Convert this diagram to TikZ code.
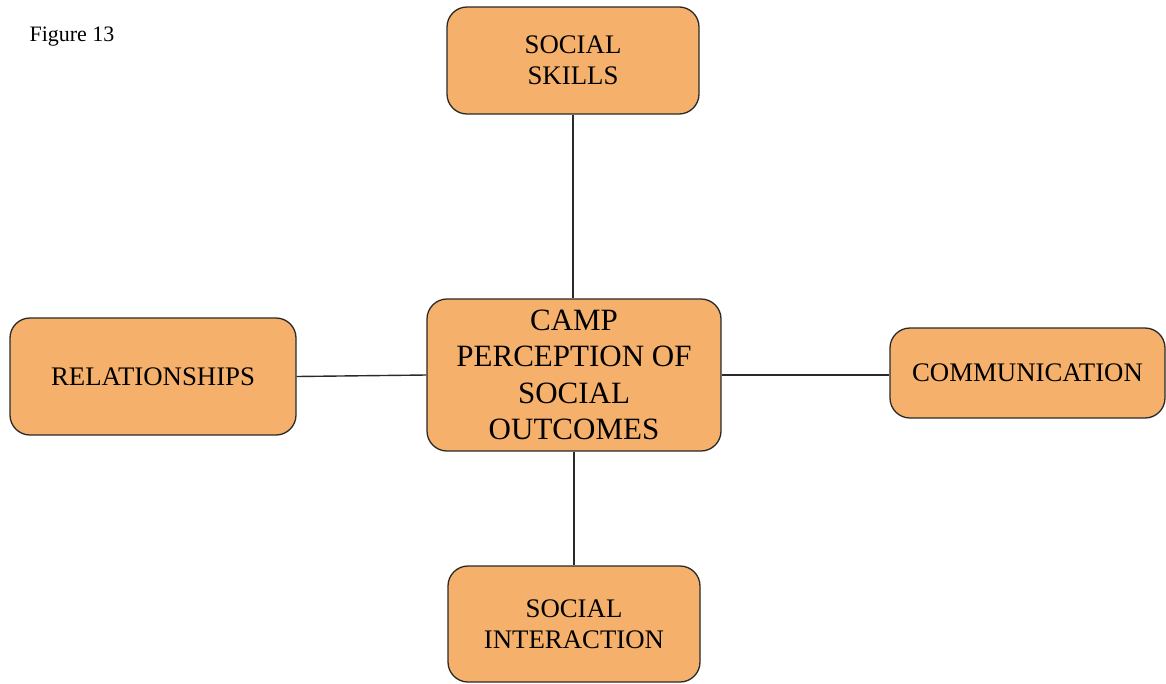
\documentclass[tikz,border=0pt]{standalone}
\usepackage{fontspec}
\setmainfont{Liberation Serif}
\definecolor{boxfill}{HTML}{F5B06B}
\definecolor{boxline}{HTML}{2A2A2A}
\begin{document}
\begin{tikzpicture}[x=1pt,y=-1pt,
  box/.style={draw=boxline, line width=1.3pt, fill=boxfill, rounded corners=20pt,
    inner sep=0pt, align=center, text=black},
  outer/.style={box, font=\fontsize{26.8}{31}\selectfont},
  link/.style={draw=boxline, line width=1.4pt}]
\useasboundingbox (0,0) rectangle (1166,683);
\node[anchor=west, font=\fontsize{22}{26}\selectfont] (fig) at (26,37) {Figure 13};
\node[box, font=\fontsize{31}{36.5}\selectfont, minimum width=294pt, minimum height=152pt]
  (core) at (574,375) {CAMP\\PERCEPTION OF\\SOCIAL\\OUTCOMES};
\node[outer, minimum width=252pt, minimum height=107pt] (skills) at (573,60.5) {SOCIAL\\SKILLS};
\node[outer, minimum width=286pt, minimum height=117pt] (rel) at (153,376.5) {RELATIONSHIPS};
\node[outer, minimum width=275pt, minimum height=90pt] (comm) at (1027.5,373) {COMMUNICATION};
\node[outer, minimum width=252pt, minimum height=116pt] (inter) at (574,624) {SOCIAL\\INTERACTION};
\draw[link] (skills.south) -- (core.north -| skills.south);
\draw[link] (core.south) -- (inter.north);
\draw[link] (rel.east) -- (core.west);
\draw[link] (core.east) -- (core.east -| comm.west);
\end{tikzpicture}
\end{document}
